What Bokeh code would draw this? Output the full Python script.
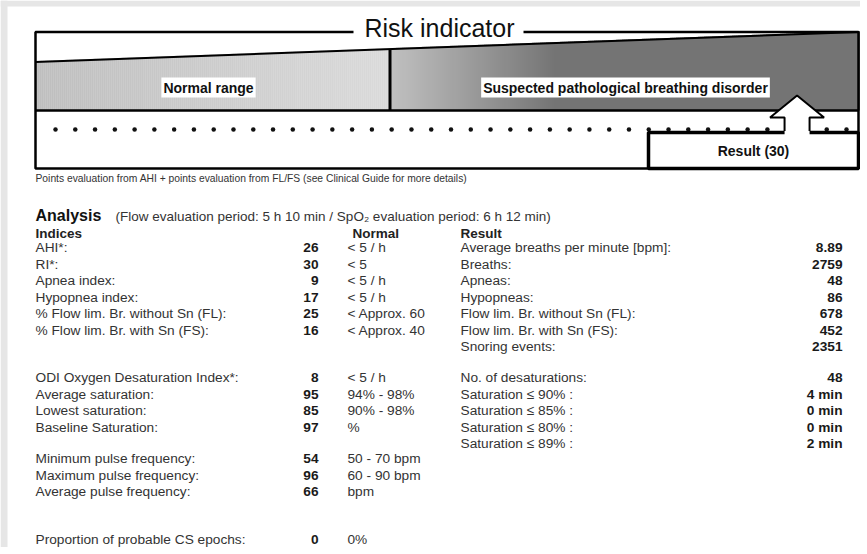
import numpy as np
from bokeh.plotting import figure
from bokeh.models import Range1d
from bokeh.core.properties import value
from bokeh.embed import file_html
from bokeh.resources import INLINE

# ---------------- data ----------------
risk_title = "Risk indicator"
zone_labels = ["Normal range", "Suspected pathological breathing disorder"]
risk_result = 30
risk_score_max = 32
risk_dot_count = 41
result_label = "Result (30)"
footnote = "Points evaluation from AHI + points evaluation from FL/FS (see Clinical Guide for more details)"

analysis_title = "Analysis"
analysis_period = "(Flow evaluation period: 5 h 10 min / SpO\u2082 evaluation period: 6 h 12 min)"
column_headers = ["Indices", "Normal", "Result"]

indices_labels = ["AHI*:", "RI*:", "Apnea index:", "Hypopnea index:",
                  "% Flow lim. Br. without Sn (FL):", "% Flow lim. Br. with Sn (FS):"]
indices_values = [26, 30, 9, 17, 25, 16]
indices_normal = ["< 5 / h", "< 5", "< 5 / h", "< 5 / h", "< Approx. 60", "< Approx. 40"]

oxy_labels = ["ODI Oxygen Desaturation Index*:", "Average saturation:",
              "Lowest saturation:", "Baseline Saturation:"]
oxy_values = [8, 95, 85, 97]
oxy_normal = ["< 5 / h", "94% - 98%", "90% - 98%", "%"]

pulse_labels = ["Minimum pulse frequency:", "Maximum pulse frequency:", "Average pulse frequency:"]
pulse_values = [54, 96, 66]
pulse_normal = ["50 - 70 bpm", "60 - 90 bpm", "bpm"]

cs_labels = ["Proportion of probable CS epochs:"]
cs_values = [0]
cs_normal = ["0%"]

result_labels = ["Average breaths per minute [bpm]:", "Breaths:", "Apneas:", "Hypopneas:",
                 "Flow lim. Br. without Sn (FL):", "Flow lim. Br. with Sn (FS):", "Snoring events:"]
result_values = ["8.89", "2759", "48", "86", "678", "452", "2351"]

desat_labels = ["No. of desaturations:", "Saturation \u2264 90% :", "Saturation \u2264 85% :",
                "Saturation \u2264 80% :", "Saturation \u2264 89% :"]
desat_values = ["48", "4 min", "0 min", "0 min", "2 min"]

# ---------------- layout ----------------
W, H = 860, 547
FONT = value("Liberation Sans")
p = figure(width=W, height=H, x_range=Range1d(0, W), y_range=Range1d(H, 0),
           output_backend="svg", toolbar_location=None, min_border=0,
           x_axis_location=None, y_axis_location=None)
p.grid.visible = False
p.outline_line_color = None
p.background_fill_color = "white"
p.border_fill_color = "white"

# page frame (grey margin of the scanned report)
p.quad(left=[0, 0], right=[7, W], top=[0, 0], bottom=[H, 6], fill_color="#e6e6e6", line_color=None)

BOX_L, BOX_R, BOX_T, BOX_B = 35, 858, 31.5, 168
GRAY_B = 110
DIV_X = 389.5
SLOPE_L, SLOPE_R = 61.5, 31.5


def slope_y(x):
    return SLOPE_L + (SLOPE_R - SLOPE_L) * (np.asarray(x, dtype=float) - BOX_L) / (BOX_R - BOX_L)


def gray_hex(v):
    v = int(round(v))
    return "#%02x%02x%02x" % (v, v, v)


# gradient strips (decoration)
sw = 2.0
lx = np.arange(BOX_L, DIV_X, sw)
lcol = [gray_hex(190 + 28 * (x - BOX_L) / (DIV_X - BOX_L)) for x in lx]
rx = np.arange(DIV_X, BOX_R, sw)
rcol = [gray_hex(max(116.0, 192 - 76 * (x - DIV_X) / 165.0)) for x in rx]
sx = np.concatenate([lx, rx])
scol = lcol + rcol
p.quad(left=sx, right=sx + sw + 0.3, top=slope_y(sx + sw / 2) - 1, bottom=GRAY_B,
       fill_color=scol, line_color=None)

# divider, slope line, gray bottom line
p.segment(x0=[DIV_X], y0=[float(slope_y(DIV_X))], x1=[DIV_X], y1=[GRAY_B], line_color="#000", line_width=3)
p.line(x=[BOX_L, BOX_R], y=[SLOPE_L, SLOPE_R], line_color="#000", line_width=2)
p.segment(x0=[BOX_L], y0=[GRAY_B], x1=[BOX_R], y1=[GRAY_B], line_color="#000", line_width=2.5)

# outer box (top split around the title)
p.multi_line(xs=[[353, BOX_L, BOX_L, BOX_R, BOX_R, 523]],
             ys=[[BOX_T, BOX_T, BOX_B, BOX_B, BOX_T, BOX_T]],
             line_color="#000", line_width=2.5)
p.text(x=[439], y=[27], text=[risk_title], text_align="center", text_baseline="middle",
       text_font=FONT, text_font_size="25px", text_color="#111")

# zone labels
p.text(x=[208, 625], y=[87, 87], text=zone_labels, text_align="center", text_baseline="middle",
       text_font=FONT, text_font_size="14px", text_font_style="bold", text_color="#111",
       background_fill_color="white", padding=2)

# dots scale
DOT_X0, DOT_X1, DOT_Y = 55, 846, 129
dots_x = DOT_X0 + (DOT_X1 - DOT_X0) * np.arange(risk_dot_count) / (risk_dot_count - 1)
p.scatter(x=dots_x, y=[DOT_Y] * risk_dot_count, size=4.5, color="#111", line_color=None)

# result box
p.quad(left=[648], right=[BOX_R], top=[132], bottom=[BOX_B], fill_color="white",
       line_color="#000", line_width=3.5)

# arrow pointing at the result
ax = DOT_X0 + (DOT_X1 - DOT_X0) * risk_result / risk_score_max
tip, hb, sb = 95, 117, 134.5
axs = [ax - 12.5, ax - 12.5, ax - 27, ax, ax + 27, ax + 12.5, ax + 12.5]
ays = [sb, hb, hb, tip, hb, hb, sb]
p.patch(x=axs, y=ays, fill_color="white", line_color=None)
p.line(x=axs, y=[130.5, hb, hb, tip, hb, hb, 130.5], line_color="#000", line_width=2)

p.text(x=[753], y=[150], text=[result_label], text_align="center", text_baseline="middle",
       text_font=FONT, text_font_size="14px", text_font_style="bold", text_color="#111")

# footnote
p.text(x=[BOX_L], y=[178], text=[footnote], text_align="left", text_baseline="middle",
       text_font=FONT, text_font_size="10.3px", text_color="#333")

# analysis header
p.text(x=[BOX_L], y=[215], text=[analysis_title], text_align="left", text_baseline="middle",
       text_font=FONT, text_font_size="16px", text_font_style="bold", text_color="#111")
p.text(x=[115], y=[216], text=[analysis_period], text_align="left", text_baseline="middle",
       text_font=FONT, text_font_size="13.5px", text_color="#333")
p.text(x=[BOX_L, 352, 460], y=[233] * 3, text=column_headers, text_align="left",
       text_baseline="middle", text_font=FONT, text_font_size="13.5px",
       text_font_style="bold", text_color="#222")

STEP = 16.5
FS = "13.7px"


def rows(labels, values, normals, y0, lx, vx, nx=None):
    ys = [y0 + STEP * i for i in range(len(labels))]
    p.text(x=[lx] * len(labels), y=ys, text=labels, text_align="left", text_baseline="middle",
           text_font=FONT, text_font_size=FS, text_color="#333")
    p.text(x=[vx] * len(values), y=ys, text=[str(v) for v in values], text_align="right",
           text_baseline="middle", text_font=FONT, text_font_size=FS,
           text_font_style="bold", text_color="#1a1a1a")
    if normals is not None:
        p.text(x=[nx] * len(normals), y=ys, text=normals, text_align="left",
               text_baseline="middle", text_font=FONT, text_font_size=FS, text_color="#333")


rows(indices_labels, indices_values, indices_normal, 247, BOX_L, 318, 347)
rows(oxy_labels, oxy_values, oxy_normal, 377, BOX_L, 318, 347)
rows(pulse_labels, pulse_values, pulse_normal, 458, BOX_L, 318, 347)
rows(cs_labels, cs_values, cs_normal, 539, BOX_L, 318, 347)
rows(result_labels, result_values, None, 247, 460, 842)
rows(desat_labels, desat_values, None, 377, 460, 842)

open("out.html", "w").write(file_html(p, INLINE))
